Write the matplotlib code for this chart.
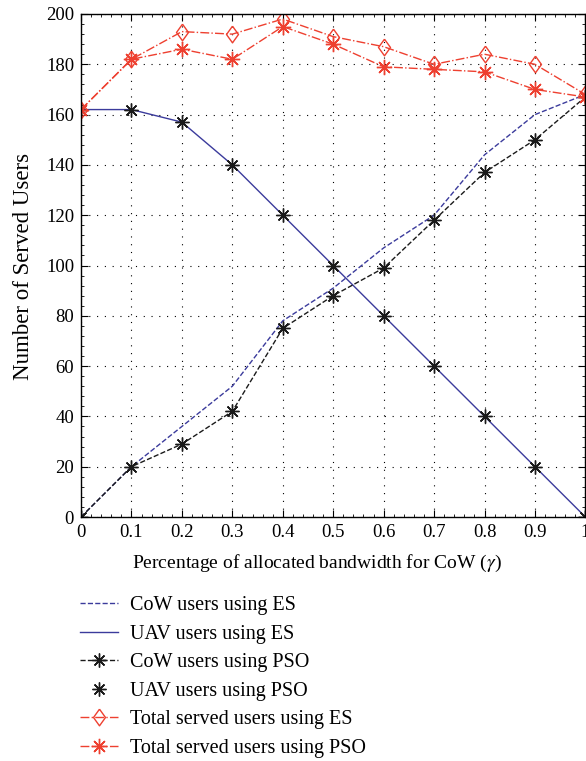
import numpy as np
import matplotlib.pyplot as plt
from matplotlib.ticker import MultipleLocator

plt.rcParams['font.family'] = ['Liberation Serif', 'DejaVu Serif']
plt.rcParams['mathtext.fontset'] = 'stix'

gamma = [0, 0.1, 0.2, 0.3, 0.4, 0.5, 0.6, 0.7, 0.8, 0.9, 1.0]
cow_es = [0, 20, 36, 52, 78, 91, 107, 120, 144, 160, 168]
uav_es = [162, 162, 157, 140, 120, 100, 80, 60, 40, 20, 0]
cow_pso = [0, 20, 29, 42, 75, 88, 99, 118, 137, 150, 167]
uav_pso = [162, 162, 157, 140, 120, 100, 80, 60, 40, 20, 0]
total_es = [162, 182, 193, 192, 198, 191, 187, 180, 184, 180, 168]
total_pso = [162, 182, 186, 182, 195, 188, 179, 178, 177, 170, 167]
xtick_labels = ['0', '0.1', '0.2', '0.3', '0.4', '0.5', '0.6', '0.7', '0.8', '0.9', '1']

blue = '#3b3b9c'
red = '#ee4030'
ast = (8, 2, 0)
diamond = [(0, 1), (0.72, 0), (0, -1), (-0.72, 0), (0, 1)]

fig = plt.figure(figsize=(5.86, 7.61), dpi=100)
ax = fig.add_axes([81/586, 1 - 517/761, 505/586 - 0.001, 503/761])

ax.plot(gamma, cow_es, '--', color=blue, lw=1, label='CoW users using ES')
ax.plot(gamma, uav_es, '-', color=blue, lw=1, label='UAV users using ES')
ax.plot(gamma, cow_pso, '--', color='#1a1a1a', lw=1, marker=ast, ms=10, mew=1,
        label='CoW users using PSO')
ax.plot(gamma, uav_pso, ' ', color='#1a1a1a', marker=ast, ms=10, mew=1,
        label='UAV users using PSO')
ax.plot(gamma, total_es, '-.', color=red, lw=1, marker=diamond, ms=12, mfc='none',
        mec=red, mew=1, label='Total served users using ES')
ax.plot(gamma, total_pso, '-.', color=red, lw=1, marker=ast, ms=11, mew=1,
        label='Total served users using PSO')

ax.set_xlim(0, 1)
ax.set_ylim(0, 200)
ax.set_xticks(gamma)
ax.set_xticklabels(xtick_labels)
ax.yaxis.set_major_locator(MultipleLocator(20))
ax.xaxis.set_minor_locator(MultipleLocator(0.02))
ax.yaxis.set_minor_locator(MultipleLocator(4))
ax.tick_params(which='both', direction='in', top=True, right=True, labelsize=13.5)
ax.tick_params(which='major', length=5, pad=5)
ax.tick_params(which='minor', length=2.5)
ax.grid(True, which='major', ls=(0, (1, 6)), color='black', lw=0.8)
for s in ax.spines.values():
    s.set_linewidth(1.0)

ax.set_xlabel(r'Percentage of allocated bandwidth for CoW ($\gamma$)', fontsize=14,
              va='center', ha='center')
ax.xaxis.set_label_coords((317 - 81) / 505, (517 - 563) / 503)
ax.set_ylabel('Number of Served Users', fontsize=16.5, va='center', ha='center')
ax.yaxis.set_label_coords((23 - 81) / 505, (517 - 266) / 503)

fig.legend(loc='upper left', bbox_to_anchor=(62/586, 1 - 578/761), frameon=False,
           fontsize=14.5, handlelength=1.9, handletextpad=0.6, labelspacing=0.47)

fig.savefig('out.png', dpi=100)
